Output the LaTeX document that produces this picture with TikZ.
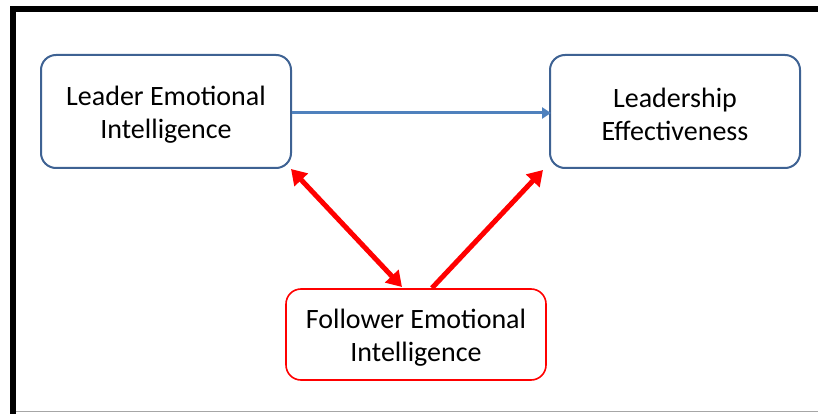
\documentclass[tikz,border=0pt]{standalone}
\usepackage{fontspec}
\setmainfont{Carlito}
\usetikzlibrary{arrows.meta}
\definecolor{boxblue}{HTML}{3E6293}
\definecolor{arrblue}{HTML}{4F81BD}
\definecolor{redline}{HTML}{FF0000}
\newcommand{\boxtext}[1]{\parbox{250pt}{\vspace*{6pt}\centering #1}}
\begin{document}
\begin{tikzpicture}[x=1pt,y=-1pt,
  box/.style={draw=boxblue, line width=2pt, rounded corners=15pt, minimum width=248pt, minimum height=113pt, align=center, font=\fontsize{28}{33}\selectfont, inner sep=0pt},
  redbox/.style={draw=redline, line width=1.6pt, rounded corners=15pt, minimum width=260pt, minimum height=91pt, align=center, font=\fontsize{28}{33}\selectfont, inner sep=0pt},
  bluearrow/.style={draw=arrblue, line width=3pt, -{Triangle[length=9pt,width=11pt]}},
  redarrow/.style={draw=redline, line width=5pt, -{Triangle[length=15pt,width=18pt]}},
  reddouble/.style={draw=redline, line width=5pt, {Triangle[length=15pt,width=18pt]}-{Triangle[length=15pt,width=18pt]}}
]
\useasboundingbox (0,0) rectangle (818,414);
\fill[white] (0,0) rectangle (818,414);
\draw[black, line width=5.5pt] (13,414) -- (13,9) -- (818,9);
\draw[gray!70, line width=1pt] (16,411.5) -- (818,411.5);

\node[box] (lei) at (166,111.5) {\boxtext{Leader Emotional\\Intelligence}};
\node[box] (le) at (675,111.5) {\boxtext{Leadership\\Effectiveness}};
\node[redbox] (fei) at (416,334.5) {\boxtext{Follower Emotional\\Intelligence}};

\coordinate (a1) at (lei.east |- 0,113);
\coordinate (a2) at (551,113);
\draw[bluearrow] (a1) -- (a2);

\coordinate (d1) at (291,169);
\coordinate (d2) at (402,287);
\draw[reddouble] (d1) -- (d2);

\coordinate (r1) at (432,288);
\coordinate (r2) at (543,170);
\draw[redarrow] (r1) -- (r2);
\end{tikzpicture}
\end{document}
